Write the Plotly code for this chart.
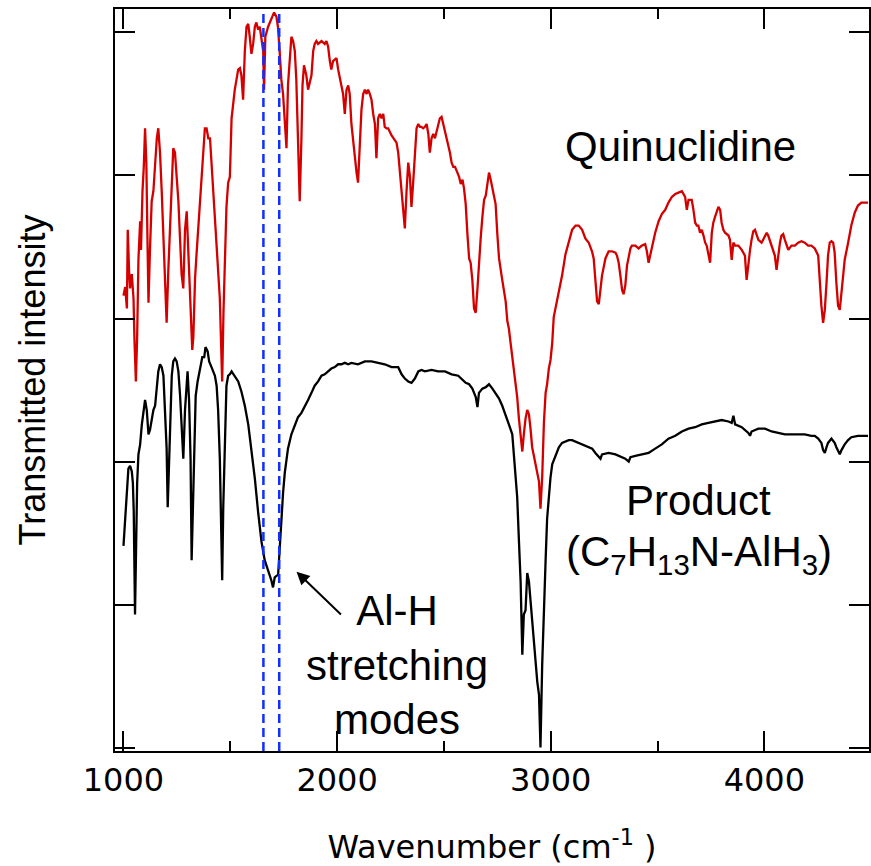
import plotly.graph_objects as go

# ---------------- data ----------------
quin_x = [1000,1008,1016,1020,1026,1031,1039,1047,1051,1058,1064,1070,1078,1082,1089,1095,1101,1107,1112,1117,
          1124,1132,1140,1148,1156,1163,1171,1179,1187,1195,1202,1210,1218,1226,1233,1241,1249,1257,1265,1272,
          1280,1288,1296,1303,1311,1319,1322,1327,1335,1342,1350,1358,1366,1373,1381,1389,1397,1405,1412,1420,
          1428,1436,1443,1451,1456,1462,1468,1475,1482,1490,1498,1506,1513,1521,1529,1537,1545,1552,1560,1568,
          1576,1584,1591,1599,1607,1615,1622,1630,1638,1646,1654,1658,1664,1677,1692,1705,1716,
          1723,1731,1739,1747,1755,1763,1770,1778,1786,1794,1802,1809,1817,1825,1833,1838,1845,1856,1864,1872,
          1880,1888,1895,1903,1911,1927,1942,1950,1958,1966,1973,1981,1997,2005,2013,2028,2036,2044,2052,2059,
          2067,2075,2083,2091,2098,2106,2114,2122,2130,2138,2145,2153,2161,2169,2177,2184,2192,2200,2208,2216,
          2223,2231,2239,2255,2263,2278,2286,2294,2302,2309,2317,2325,2333,2341,2348,2356,2364,2372,2380,2388,
          2395,2403,2411,2419,2427,2434,2442,2450,2458,2466,2473,2481,2489,2497,2505,2513,2520,2528,2536,2544,
          2552,2571,2579,2587,2594,2602,2610,2618,2625,2633,2641,2649,2657,2664,2672,2680,2688,2696,2703,2711,
          2719,2727,2742,2750,2758,2773,2789,2797,2804,2812,2820,2828,2836,2843,2851,2859,2867,2874,2882,2890,
          2898,2906,2913,2921,2929,2937,2945,2952,2960,2968,2976,2983,2991,2999,3007,3014,3022,3038,3053,3069,
          3084,3100,3116,3131,3147,3162,3178,3193,3201,3209,3217,3225,3232,3240,3256,3271,
          3287,3303,3310,3318,3326,3334,3341,3349,3357,3365,3373,3380,3396,3411,3427,3442,3450,3458,3466,3474,
          3489,3505,3520,3536,3551,3567,3583,3598,3614,3629,3637,3645,3660,3668,3676,3684,3691,3699,3707,3715,
          3723,3730,3738,3746,3754,3761,3769,3785,3793,3800,3808,3816,3832,3839,3847,3855,3863,3878,3894,3909,
          3917,3925,3933,3940,3948,3956,3964,3972,3987,4003,4011,4018,4034,4049,4057,4065,4073,4080,4088,4096,
          4112,4127,4143,4158,4174,4189,4205,4220,4236,4252,4259,4267,4275,4283,4291,4298,4306,4314,4322,4329,
          4337,4345,4353,4361,4368,4376,4392,4407,4423,4438,4454,4470,4485]
quin_y = [3.16,3.22,3.07,3.62,3.34,3.21,3.31,3.14,2.87,2.56,2.87,3.41,3.68,3.48,3.89,4.06,4.33,4.09,3.58,3.11,
          3.48,3.82,3.89,4.06,4.26,4.33,4.16,3.89,3.55,3.28,2.97,3.34,3.68,3.95,4.19,4.16,4.02,3.82,3.55,3.31,
          3.21,3.62,3.75,3.45,3.14,2.87,2.78,2.87,3.28,3.45,3.62,3.82,3.99,4.16,4.33,4.33,4.26,4.26,4.09,3.95,
          3.75,3.55,3.34,3.14,2.87,2.56,3.04,3.34,3.78,3.95,3.99,4.40,4.50,4.60,4.67,4.74,4.75,4.70,4.53,4.87,
          5.04,5.06,4.97,4.85,4.92,5.04,5.07,5.02,5.04,4.94,4.87,4.60,4.97,5.04,5.09,5.14,5.11,
          5.04,4.87,4.67,4.57,4.40,4.19,4.63,4.84,4.97,4.94,4.87,4.67,4.16,3.82,4.26,4.63,4.77,4.70,4.60,4.65,
          4.70,4.87,4.92,4.94,4.92,4.94,4.92,4.94,4.90,4.80,4.74,4.80,4.82,4.74,4.67,4.57,4.43,4.60,4.63,4.57,
          4.36,4.23,4.12,4.02,3.95,4.23,4.46,4.57,4.60,4.57,4.60,4.57,4.53,4.43,4.36,4.12,4.40,4.43,4.40,4.43,
          4.34,4.33,4.33,4.28,4.26,4.23,4.16,4.02,3.89,3.78,3.63,3.89,4.09,3.99,3.78,3.95,4.12,4.33,4.36,4.34,
          4.34,4.33,4.34,4.36,4.29,4.16,4.26,4.29,4.26,4.31,4.36,4.40,4.41,4.36,4.31,4.26,4.23,4.16,4.09,4.06,
          4.06,3.99,3.94,3.97,3.91,3.80,3.59,3.42,3.39,3.27,3.07,3.04,3.21,3.42,3.56,3.71,3.83,3.86,3.94,4.02,
          3.97,3.91,3.80,3.59,3.42,3.27,3.12,2.98,2.93,2.83,2.74,2.65,2.54,2.45,2.30,2.19,2.07,2.19,2.30,2.36,
          2.33,2.22,2.10,2.04,1.98,1.92,1.86,1.67,1.89,2.27,2.48,2.54,2.65,2.71,2.83,3.01,3.07,3.18,3.30,3.45,
          3.53,3.62,3.65,3.65,3.62,3.56,3.53,3.47,3.42,3.24,3.12,3.10,3.18,3.30,3.42,3.47,
          3.47,3.46,3.44,3.39,3.30,3.20,3.17,3.23,3.37,3.44,3.49,3.51,3.51,3.49,3.51,3.52,3.47,3.39,3.44,3.51,
          3.60,3.68,3.73,3.76,3.81,3.85,3.87,3.88,3.89,3.85,3.76,3.83,3.83,3.76,3.67,3.65,3.65,3.60,3.62,3.58,
          3.53,3.51,3.46,3.39,3.60,3.67,3.71,3.78,3.76,3.67,3.62,3.60,3.58,3.55,3.41,3.53,3.51,3.51,3.48,3.44,
          3.27,3.39,3.48,3.55,3.61,3.62,3.58,3.55,3.53,3.58,3.60,3.58,3.51,3.44,3.34,3.46,3.53,3.58,3.59,3.55,
          3.48,3.51,3.51,3.53,3.54,3.53,3.51,3.51,3.49,3.44,3.27,3.09,2.97,3.06,3.25,3.44,3.53,3.54,3.53,3.46,
          3.25,3.09,3.06,3.20,3.32,3.41,3.53,3.65,3.74,3.79,3.81,3.81,3.81]

prod_x = [1000,1005,1011,1017,1023,1031,1039,1044,1048,1054,1059,1064,1070,1078,1086,1093,1101,1109,1114,1117,
          1124,1132,1140,1148,1156,1163,1171,1179,1187,1195,1202,1207,1213,1218,1226,1233,1241,1249,1257,1265,
          1272,1280,1288,1296,1300,1307,1314,1319,1325,1331,1338,1347,1358,1369,1378,1384,1394,1401,1412,1420,
          1428,1436,1443,1451,1459,1462,1467,1475,1482,1490,1498,1506,1521,1537,1552,1568,1584,1599,1615,1630,
          1646,1661,1677,1692,1700,1708,1724,
          1731,1739,1747,1755,1763,1770,1786,1802,1817,1833,1848,1864,1880,1895,1911,1927,1942,1958,1973,1989,
          2005,2020,2036,2052,2067,2098,2130,2161,2192,2223,2255,2286,2302,2317,2333,2348,2364,2380,2395,2411,
          2442,2473,2505,2536,2567,
          2587,2602,2618,2633,2649,2657,2664,2680,2696,2711,2727,2742,2758,2773,2789,2804,2820,2828,2836,2843,
          2851,2859,2867,2874,2882,2890,2898,2906,2913,2921,2929,2937,2945,2952,2960,2968,2976,2983,2991,2999,
          3007,3022,3038,3053,3069,3084,
          3100,3131,3162,3194,3209,3225,3233,3240,3271,3303,3334,3349,3365,3373,3396,3427,3458,3489,3520,3551,
          3583,3614,3645,3676,3707,3738,3769,3800,3832,3847,3855,3863,3894,3925,3933,3940,3972,4003,4034,4065,
          4096,4127,4158,4189,4220,4236,4252,4267,4275,4283,4291,4298,4314,4329,4337,4353,4361,4376,4392,4407,
          4438,4485]
prod_y = [1.41,1.54,1.71,1.85,1.95,1.97,1.93,1.85,1.65,0.93,1.41,1.85,2.05,2.12,2.26,2.36,2.43,2.36,2.26,2.19,
          2.22,2.29,2.36,2.39,2.53,2.63,2.68,2.66,2.60,2.36,2.09,1.68,2.02,2.33,2.60,2.70,2.72,2.70,2.63,2.46,
          2.26,2.02,2.36,2.56,2.63,2.43,2.02,1.31,1.68,2.19,2.46,2.56,2.66,2.73,2.73,2.80,2.77,2.70,2.66,2.63,
          2.60,2.53,2.36,2.02,1.51,1.17,1.68,2.26,2.53,2.60,2.61,2.63,2.60,2.56,2.49,2.39,2.26,2.09,1.88,1.65,
          1.44,1.31,1.24,1.17,1.12,1.19,1.21,
          1.41,1.61,1.78,1.92,2.02,2.09,2.19,2.26,2.31,2.34,2.38,2.43,2.48,2.53,2.56,2.60,2.61,2.63,2.65,2.66,
          2.68,2.68,2.69,2.68,2.69,2.68,2.70,2.70,2.69,2.68,2.66,2.66,2.61,2.58,2.56,2.55,2.58,2.63,2.64,2.63,
          2.64,2.63,2.63,2.61,2.60,
          2.57,2.55,2.54,2.51,2.45,2.38,2.48,2.51,2.52,2.54,2.51,2.48,2.44,2.39,2.33,2.26,2.19,2.04,1.89,1.75,
          1.45,1.16,0.65,0.93,0.96,1.22,1.16,1.02,0.84,0.72,0.58,0.46,0.37,0.00,0.58,1.02,1.31,1.60,1.78,1.89,
          1.98,2.04,2.10,2.13,2.14,2.15,
          2.15,2.13,2.11,2.09,2.06,2.03,2.02,2.05,2.06,2.05,2.03,2.02,2.00,2.03,2.04,2.05,2.06,2.09,2.12,2.16,
          2.18,2.21,2.23,2.24,2.26,2.27,2.28,2.29,2.28,2.27,2.32,2.26,2.24,2.20,2.18,2.21,2.23,2.23,2.21,2.20,
          2.19,2.19,2.19,2.19,2.18,2.18,2.16,2.13,2.08,2.06,2.10,2.13,2.16,2.13,2.10,2.05,2.08,2.12,2.15,2.17,
          2.18,2.18]

alh_modes = [1655, 1729]          # dashed marker positions (cm^-1)
x_ticks = [1000, 2000, 3000, 4000]
x_minor = [1500, 2500, 3500]
y_ticks = [0, 1, 2, 3, 4, 5]

# ---------------- figure ----------------
fig = go.Figure()
fig.add_trace(go.Scatter(x=quin_x, y=quin_y, mode="lines",
                         line=dict(color="#d40000", width=2.3), showlegend=False))
fig.add_trace(go.Scatter(x=prod_x, y=prod_y, mode="lines",
                         line=dict(color="#000000", width=2.3), showlegend=False))

for xv in alh_modes:
    fig.add_shape(type="line", xref="x", yref="paper", x0=xv, x1=xv, y0=0, y1=1,
                  line=dict(color="#1030ff", width=2.5, dash="9px,5px"))

txt_font = dict(family="Liberation Sans, Arial, sans-serif", size=42, color="black")
fig.add_annotation(x=3607, y=4.2, xref="x", yref="y", text="Quinuclidine",
                   showarrow=False, font=txt_font)
fig.add_annotation(x=3694, y=1.73, xref="x", yref="y", text="Product",
                   showarrow=False, font=txt_font)
fig.add_annotation(x=3692, y=1.35, xref="x", yref="y",
                   text="(C<sub>7</sub>H<sub>13</sub>N-AlH<sub>3</sub>)",
                   showarrow=False, font=txt_font)
fig.add_annotation(x=2282, y=0.58, xref="x", yref="y",
                   text="Al-H<br>stretching<br>modes",
                   showarrow=False, font=txt_font, align="center")
fig.add_annotation(x=1810, y=1.23, ax=2025, ay=0.92, xref="x", yref="y",
                   axref="x", ayref="y", text="", showarrow=True,
                   arrowhead=2, arrowsize=1.3, arrowwidth=2, arrowcolor="black")

tick_font = dict(family="DejaVu Sans, sans-serif", size=32, color="black")
fig.update_layout(
    width=871, height=866,
    margin=dict(l=115, r=0, t=9, b=114),
    paper_bgcolor="white", plot_bgcolor="white",
    xaxis=dict(range=[960.3, 4489.8], tickvals=x_ticks, ticktext=[str(v) for v in x_ticks],
               ticks="inside", ticklen=20, tickwidth=2, tickcolor="black",
               showline=True, linewidth=2, linecolor="black", mirror="ticks",
               showgrid=False, zeroline=False, tickfont=tick_font,
               minor=dict(tickvals=x_minor, ticks="inside", ticklen=10, tickwidth=2,
                          tickcolor="black", showgrid=False),
               title=dict(text="Wavenumber (cm<sup>-1</sup> )", font=tick_font, standoff=44)),
    yaxis=dict(range=[-0.024, 5.164], tickvals=y_ticks, showticklabels=False,
               ticks="inside", ticklen=20, tickwidth=2, tickcolor="black",
               showline=True, linewidth=2, linecolor="black", mirror="ticks",
               showgrid=False, zeroline=False,
               title=dict(text="Transmitted intensity", standoff=56,
                          font=dict(family="Liberation Sans, Arial, sans-serif", size=36, color="black"))),
)

fig.write_html("out.html", config={"displayModeBar": False},
               post_script="document.body.style.margin='0px';")
